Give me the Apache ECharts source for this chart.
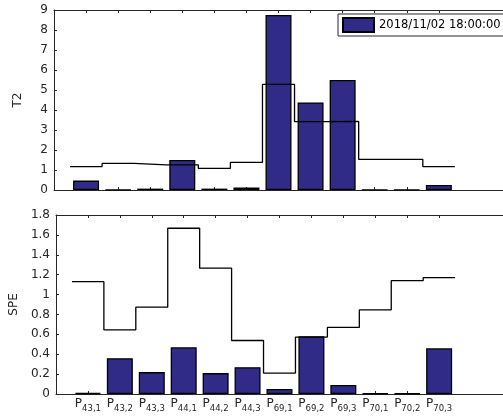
<!DOCTYPE html>
<html>
<head>
<meta charset="utf-8">
<script src="https://cdn.jsdelivr.net/npm/echarts@6/dist/echarts.min.js"></script>
<style>
  html, body { margin: 0; padding: 0; background: #fff; }
  #chart { width: 503px; height: 420px; }
</style>
</head>
<body>
<div id="chart"></div>
<script>
// subscripts of the P labels
var cats = ['43,1', '43,2', '43,3', '44,1', '44,2', '44,3', '69,1', '69,2', '69,3', '70,1', '70,2', '70,3'];
var t2Vals = [0.47, 0.02, 0.07, 1.5, 0.07, 0.13, 8.75, 4.38, 5.5, 0.01, 0.01, 0.25];
var t2Limit = [1.17, 1.33, 1.26, 1.26, 1.08, 1.38, 5.28, 3.42, 3.43, 1.53, 1.53, 1.17];
var speVals = [0.01, 0.36, 0.22, 0.47, 0.21, 0.27, 0.05, 0.58, 0.09, 0.005, 0.005, 0.46];
var speLimit = [1.13, 0.645, 0.873, 1.667, 1.265, 0.538, 0.21, 0.572, 0.669, 0.846, 1.14, 1.17];
var legendName = '2018/11/02 18:00:00';

var font = 'DejaVu Sans';
var txt = '#262626';
var barColor = '#302b87';

var chart = echarts.init(document.getElementById('chart'));

var tickPos = [];
for (var i = 0; i < cats.length; i++) tickPos.push(i + 1);

function barData(vals) {
	var out = [];
	for (var i = 0; i < vals.length; i++) out.push([i + 1, vals[i]]);
	return out;
}

// stairs: each level spans i+0.5 .. i+1.5
function stairData(vals) {
	var out = [];
	for (var i = 0; i < vals.length; i++) out.push([i + 0.5, vals[i]]);
	out.push([vals.length + 0.5, vals[vals.length - 1]]);
	return out;
}

function xAx(grid, pos, labels) {
	return {
		gridIndex: grid,
		type: 'value',
		position: pos,
		min: 0,
		max: 14,
		interval: 1,
		axisLine: { show: true, onZero: false, lineStyle: { color: txt, width: 1 } },
		axisTick: { show: true, inside: true, length: 3, customValues: tickPos, lineStyle: { color: txt } },
		splitLine: { show: false },
		axisLabel: labels ? {
			show: true,
			customValues: tickPos,
			margin: 4,
			formatter: function(v) {
				var k = Math.round(v) - 1;
				return '{p|P}{s|' + cats[k] + '}';
			},
			rich: {
				p: { fontFamily: font, fontSize: 12, color: txt, lineHeight: 14, verticalAlign: 'top' },
				s: { fontFamily: font, fontSize: 8.5, color: txt, lineHeight: 14, verticalAlign: 'top', padding: [6, 0, 0, 0] }
			}
		} : { show: false }
	};
}

function yAx(grid, max, step, name, gap) {
	return {
		gridIndex: grid,
		type: 'value',
		min: 0,
		max: max,
		interval: step,
		axisLine: { show: true, lineStyle: { color: txt, width: 1 } },
		axisTick: { show: true, inside: true, length: 3, lineStyle: { color: txt } },
		splitLine: { show: false },
		axisLabel: { color: txt, fontFamily: font, fontSize: 12, margin: 6 },
		name: name,
		nameLocation: 'middle',
		nameGap: gap,
		nameTextStyle: { color: txt, fontFamily: font, fontSize: 12 }
	};
}

var option = {
	animation: false,
	backgroundColor: '#fff',
	grid: [
		{ left: 54, top: 10, right: -6, height: 180 },
		{ left: 54, top: 215, right: -6, height: 179 }
	],
	legend: {
		data: [legendName],
		left: 338,
		top: 14,
		padding: [3, 4, 3, 4],
		icon: 'rect',
		itemWidth: 31,
		itemHeight: 14,
		itemGap: 5,
		borderColor: txt,
		borderWidth: 1,
		borderRadius: 0,
		backgroundColor: '#fff',
		textStyle: { color: '#000', fontFamily: font, fontSize: 11.5 }
	},
	xAxis: [
		xAx(0, 'bottom', false),
		xAx(0, 'top', false),
		xAx(1, 'bottom', true),
		xAx(1, 'top', false)
	],
	yAxis: [
		yAx(0, 9, 1, 'T2', 30),
		yAx(1, 1.8, 0.2, 'SPE', 33)
	],
	series: [{
		name: legendName,
		type: 'bar',
		xAxisIndex: 0,
		yAxisIndex: 0,
		barWidth: 26,
		data: barData(t2Vals),
		itemStyle: { color: barColor, borderColor: '#000', borderWidth: 1.3 }
	}, {
		name: 't2limit',
		type: 'line',
		xAxisIndex: 0,
		yAxisIndex: 0,
		step: 'end',
		symbol: 'none',
		data: stairData(t2Limit),
		lineStyle: { color: '#000', width: 1.3 },
		z: 5
	}, {
		name: 'spe',
		type: 'bar',
		xAxisIndex: 2,
		yAxisIndex: 1,
		barWidth: 26,
		data: barData(speVals),
		itemStyle: { color: barColor, borderColor: '#000', borderWidth: 1.3 }
	}, {
		name: 'spelimit',
		type: 'line',
		xAxisIndex: 2,
		yAxisIndex: 1,
		step: 'end',
		symbol: 'none',
		data: stairData(speLimit),
		lineStyle: { color: '#000', width: 1.3 },
		z: 5
	}]
};

chart.setOption(option);
</script>
</body>
</html>
